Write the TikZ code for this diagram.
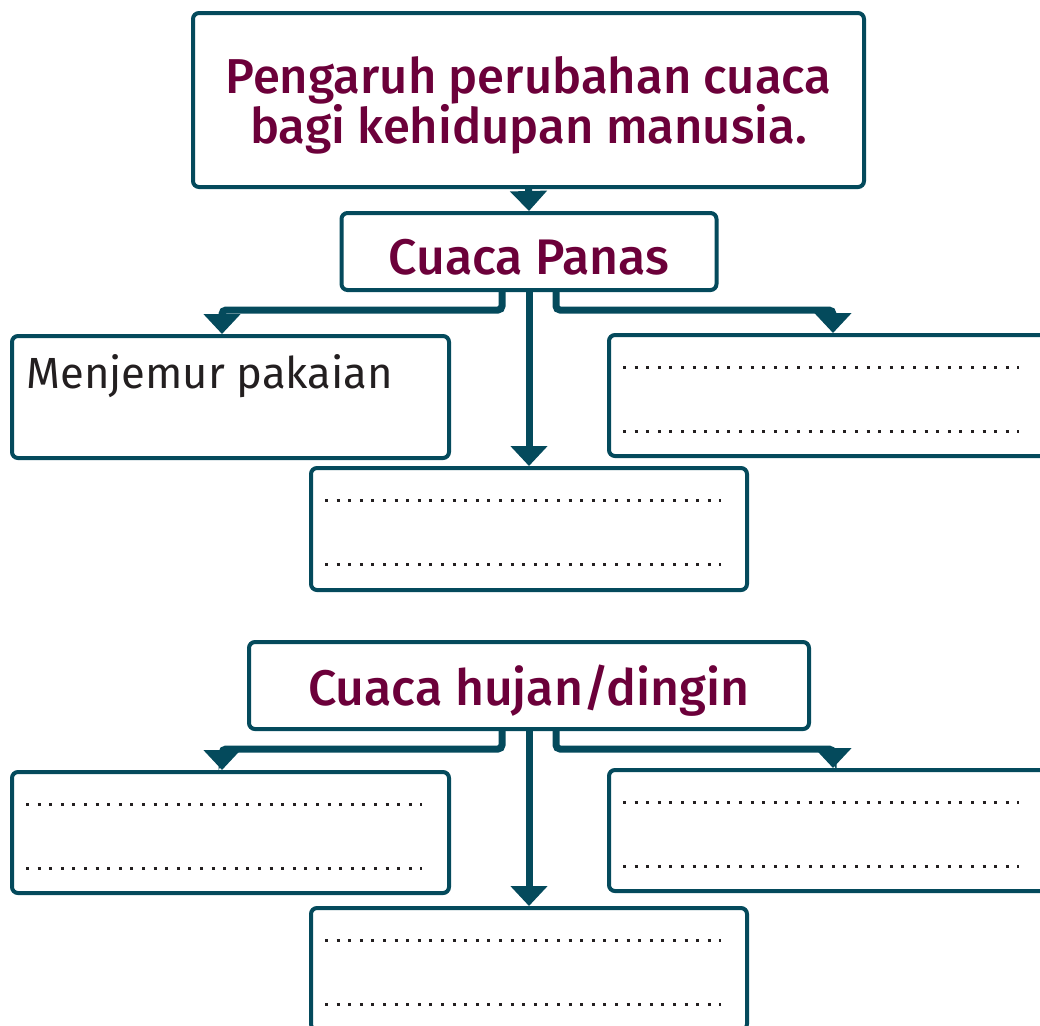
\documentclass[tikz,border=0pt]{standalone}
\usepackage{fontspec}
\setmainfont{Fira Sans}
\newfontfamily\headfont{Fira Sans Medium}
\usepackage{tikz}
\usetikzlibrary{arrows.meta, positioning, calc}
\definecolor{cTeal}{RGB}{4,74,92}
\definecolor{cPlum}{RGB}{108,0,58}
\definecolor{cInk}{RGB}{35,31,32}
\tikzset{
	kotak/.style   ={rectangle, rounded corners=3pt, draw=cTeal, line width=2pt, fill=white, inner sep=0pt},
	judul/.style   ={kotak, text=cPlum, align=center, font=\headfont\fontsize{24.5}{25}\selectfont},
	cabang/.style  ={draw=cTeal, line width=3.5pt, rounded corners=2pt, -{Triangle[width=18pt, length=10pt]}},
	isian/.style   ={draw=cInk, line width=1.5pt, dash pattern=on 1.5pt off 4.3pt},
}

\begin{document}
\begin{tikzpicture}[x=0.5pt, y=-0.5pt]
	\useasboundingbox (0,0) rectangle (1040,1025);
	\clip (0,0) rectangle (1040,1025);
	% title and first group
	\node[judul, text depth=-2pt, minimum width=335.5pt, minimum height=87pt] (title) at (528.5,100) {Pengaruh perubahan cuaca\\bagi kehidupan manusia.};
	\node[judul, font=\headfont\fontsize{25}{26}\selectfont, text height=23pt, text depth=0pt, minimum width=187.5pt, minimum height=38.5pt] (panas) at (529,251.5) {Cuaca Panas};
	\node[kotak, minimum width=218.5pt, minimum height=61pt] (jemur) at (230.5,397) {};
	\node[kotak, minimum width=225.5pt, minimum height=60.5pt] (kanan1) at (834.5,395.5) {};
	\node[kotak, minimum width=218pt, minimum height=61pt] (bawah1) at (529,529) {};
	\node[anchor=base west, inner sep=0pt, text=cInk, font=\fontsize{21.8}{24}\selectfont] (jemurteks) at ([xshift=8pt, yshift=-27pt]jemur.north west) {Menjemur pakaian};
	% second group
	\node[judul, font=\headfont\fontsize{25}{26}\selectfont, text depth=-1pt, minimum width=280pt, minimum height=43.5pt] (hujan) at (529,685.5) {Cuaca hujan/dingin};
	\node[kotak, minimum width=218.5pt, minimum height=60.5pt] (kiri2) at (230.5,832.5) {};
	\node[kotak, minimum width=225.5pt, minimum height=60.5pt] (kanan2) at (834.5,830.5) {};
	\node[kotak, minimum width=218pt, minimum height=61pt] (bawah2) at (529,969) {};
	% connectors
	\draw[cabang] (title.south) -- (panas.north);
	\foreach \atas/\kiri/\kanan/\bawah in {panas/jemur/kanan1/bawah1, hujan/kiri2/kanan2/bawah2} {
		\draw[cabang] (\atas.south) -- (\bawah.north);
		\draw[cabang] ([xshift=-13.5pt]\atas.south) -- ++(0pt,-9pt) -| ([xshift=-4.25pt]\kiri.north);
		\draw[cabang] ([xshift=13.5pt]\atas.south) -- ++(0pt,-9pt) -| ([xshift=-0.75pt]\kanan.north);
	}
	% dotted fill-in lines
	\foreach \n in {kanan1, bawah1, kiri2, kanan2, bawah2} {
		\draw[isian] ([xshift=8pt, yshift=-17pt]\n.north west) -- ++(198pt,0pt);
		\draw[isian] ([xshift=8pt, yshift=-49pt]\n.north west) -- ++(198pt,0pt);
	}
\end{tikzpicture}
\end{document}
